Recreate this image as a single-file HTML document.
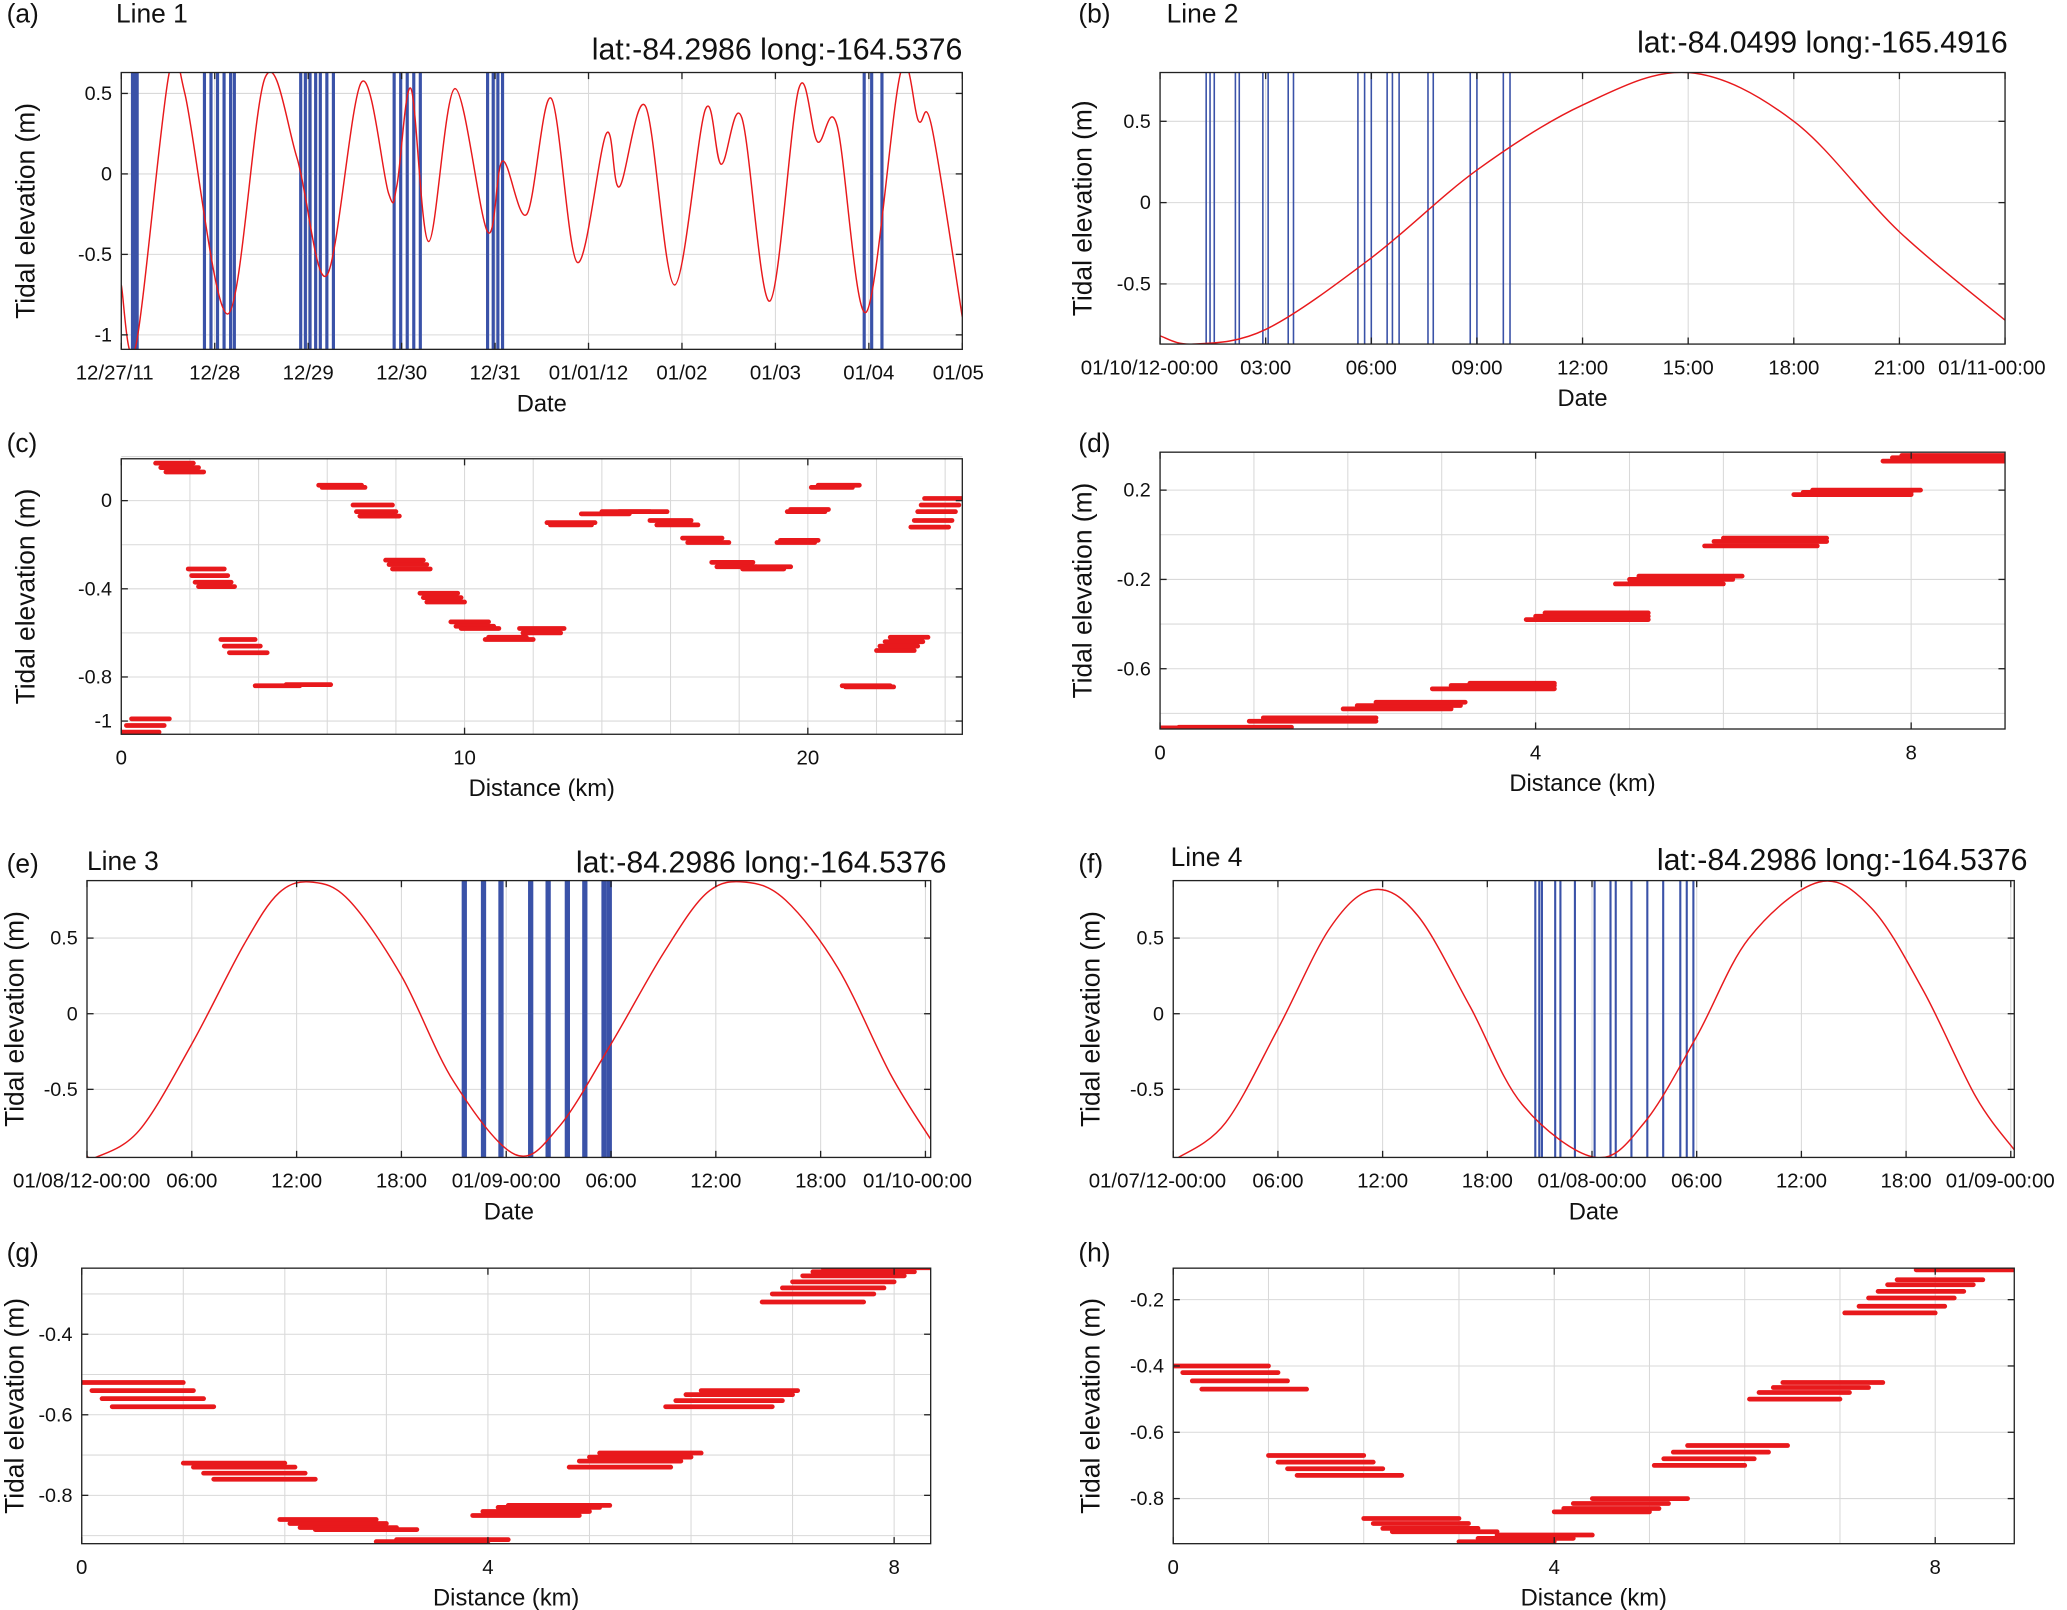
<!DOCTYPE html>
<html><head><meta charset="utf-8"><style>
html,body{margin:0;padding:0;background:#fff}
svg{display:block}
text{font-family:"Liberation Sans",sans-serif;fill:#111}
</style></head><body>
<svg id="fig" width="2067" height="1610" viewBox="0 0 1568 1221.3" xmlns="http://www.w3.org/2000/svg"></svg>
<script>
// ---- Panel (a) data: days since 12/27/11
const aTimes=[0,0.155,0.51,0.68,1.14,1.54,1.88,2.2,2.57,2.86,2.95,3.1,3.29,3.57,3.92,4.08,4.34,4.6,4.88,5.19,5.33,5.61,5.92,6.25,6.42,6.64,6.94,7.25,7.45,7.66,7.97,8.34,8.53,8.67,9.0];
const aValues=[-0.69,-1.07,0.62,0.5,-0.87,0.6,0.1,-0.63,0.57,-0.12,-0.07,0.53,-0.42,0.53,-0.36,0.08,-0.25,0.47,-0.55,0.25,-0.08,0.42,-0.69,0.4,0.06,0.35,-0.79,0.53,0.2,0.3,-0.86,0.63,0.33,0.3,-0.89];
const aPasses=[0.12,0.15,0.17,0.89,0.96,1.03,1.1,1.17,1.21,1.92,1.97,2.02,2.08,2.13,2.2,2.27,2.92,2.99,3.06,3.13,3.2,3.92,3.98,4.03,4.08,7.95,8.03,8.14];
const aTickLabels=["12/27/11","12/28","12/29","12/30","12/31","01/01/12","01/02","01/03","01/04","01/05"];
// ---- Panel (b) data: hours since 01/10/12 00:00
const bTimes=[0,0.94,3,6,9,12,15,18,21,24.04];
const bValues=[-0.82,-0.87,-0.78,-0.34,0.2,0.6,0.8,0.5,-0.18,-0.73];
const bPasses=[1.31,1.42,1.54,2.14,2.25,2.92,3.07,3.64,3.79,5.62,5.81,6.0,6.45,6.6,6.79,7.61,7.76,8.81,9.0,9.75,9.94];
const bTickLabels=["01/10/12-00:00","03:00","06:00","09:00","12:00","15:00","18:00","21:00","01/11-00:00"];
// ---- Panel (e) data: hours since 01/08/12 00:00
const eTimes=[0,0.5,3,6,9,11,12.9,15,18,21,24.5,27,30,33,35.5,37.7,40,43,46,48.3];
const eValues=[-0.94,-0.95,-0.77,-0.2,0.46,0.8,0.87,0.75,0.25,-0.45,-0.93,-0.75,-0.2,0.4,0.8,0.87,0.75,0.3,-0.4,-0.83];
const ePasses=[21.6,22.7,23.7,25.4,26.4,27.5,28.5,29.6,29.9];
const eTickLabels=["01/08/12-00:00","06:00","12:00","18:00","01/09-00:00","06:00","12:00","18:00","01/10-00:00"];
// ---- Panel (f) data: hours since 01/07/12 00:00
const fTimes=[0,0.3,3,6,9,11.5,14,17,20,24.2,27,30,33,37,40,43,46,48.2];
const fValues=[-0.94,-0.95,-0.72,-0.1,0.57,0.82,0.65,0.05,-0.6,-0.95,-0.72,-0.15,0.5,0.87,0.7,0.15,-0.55,-0.9];
const fPasses=[20.75,20.98,21.13,21.89,22.19,23.02,24.15,25.06,25.36,26.26,27.17,28.08,29.06,29.43,29.81];
const fTickLabels=["01/07/12-00:00","06:00","12:00","18:00","01/08-00:00","06:00","12:00","18:00","01/09-00:00"];
// ---- Panel (c) segments: start km, end km, elevation m
const cX0=[0.3,0.15,0,1.0,1.15,1.3,1.95,2.05,2.15,2.25,2.9,3.0,3.15,3.9,4.8,5.75,5.85,6.75,6.85,6.95,7.7,7.8,7.9,8.7,8.8,8.9,9.6,9.75,9.9,10.6,10.7,11.6,11.7,12.4,12.5,13.4,14.0,14.5,15.4,15.6,16.35,16.5,17.2,17.35,18.1,18.3,19.1,19.2,19.4,19.5,20.1,20.3,21.0,21.1,22.4,22.25,22.1,22.0,23.4,23.3,23.2,23.1,23.0];
const cX1=[1.4,1.25,1.1,2.1,2.25,2.4,3.0,3.1,3.2,3.3,3.9,4.05,4.25,5.2,6.1,7.0,7.1,7.9,8.0,8.1,8.8,8.9,9.0,9.8,9.9,10.0,10.7,10.85,11.0,12.0,11.8,12.9,12.8,13.8,13.7,14.8,15.4,15.9,16.6,16.8,17.5,17.7,18.4,18.5,19.3,19.5,20.2,20.3,20.5,20.6,21.3,21.5,22.4,22.5,23.5,23.35,23.2,23.1,24.5,24.4,24.3,24.2,24.1];
const cY=[-0.99,-1.02,-1.05,0.17,0.15,0.13,-0.31,-0.34,-0.37,-0.39,-0.63,-0.66,-0.69,-0.84,-0.835,0.07,0.06,-0.02,-0.05,-0.07,-0.27,-0.29,-0.31,-0.42,-0.44,-0.46,-0.55,-0.57,-0.58,-0.63,-0.62,-0.58,-0.6,-0.1,-0.11,-0.06,-0.05,-0.05,-0.09,-0.11,-0.17,-0.19,-0.28,-0.3,-0.31,-0.3,-0.19,-0.18,-0.05,-0.04,0.06,0.07,-0.84,-0.845,-0.62,-0.64,-0.66,-0.68,0.01,-0.02,-0.05,-0.09,-0.12];
// ---- Panel (d)
const dX0=[0,0.2,0.95,1.1,1.95,2.1,2.3,2.9,3.1,3.3,3.9,4.0,4.1,4.85,5.0,5.1,5.8,5.9,6.0,6.75,6.85,6.95,7.7,7.8,7.9];
const dX1=[1.2,1.4,2.3,2.3,3.1,3.2,3.25,4.2,4.2,4.2,5.2,5.2,5.2,6.0,6.1,6.2,7.0,7.1,7.1,8.0,8.0,8.1,9.0,9.0,9.0];
const dY=[-0.865,-0.862,-0.835,-0.82,-0.78,-0.765,-0.75,-0.69,-0.675,-0.665,-0.38,-0.365,-0.35,-0.22,-0.2,-0.185,-0.05,-0.03,-0.015,0.18,0.19,0.2,0.33,0.345,0.355];
// ---- Panel (g)
const gX0=[0,0.1,0.2,0.3,1.0,1.1,1.2,1.3,1.95,2.05,2.15,2.3,2.9,3.1,3.85,3.95,4.1,4.2,4.8,4.9,5.0,5.1,5.75,5.85,5.95,6.1,6.7,6.8,6.9,7.0,7.1,7.2,7.3];
const gX1=[1.0,1.1,1.2,1.3,2.0,2.1,2.2,2.3,2.9,3.0,3.1,3.3,4.0,4.2,4.9,5.0,5.1,5.2,5.8,5.9,6.0,6.1,6.8,6.9,7.0,7.05,7.7,7.8,7.9,8.0,8.1,8.2,8.36];
const gY=[-0.52,-0.54,-0.56,-0.58,-0.72,-0.73,-0.745,-0.76,-0.86,-0.87,-0.88,-0.885,-0.915,-0.91,-0.85,-0.84,-0.83,-0.825,-0.73,-0.715,-0.705,-0.695,-0.58,-0.565,-0.55,-0.54,-0.32,-0.3,-0.285,-0.27,-0.255,-0.245,-0.235];
// ---- Panel (h)
const hX0=[0,0.1,0.2,0.3,1.0,1.1,1.2,1.3,2.0,2.1,2.2,2.3,3.0,3.2,3.4,4.0,4.1,4.2,4.4,5.05,5.15,5.25,5.4,6.05,6.15,6.3,6.4,7.05,7.2,7.3,7.4,7.5,7.6,7.8];
const hX1=[1.0,1.1,1.2,1.4,2.0,2.1,2.2,2.4,3.0,3.1,3.2,3.4,4.0,4.2,4.4,5.0,5.1,5.2,5.4,6.0,6.1,6.25,6.45,7.0,7.1,7.3,7.45,8.0,8.1,8.2,8.3,8.4,8.5,8.83];
const hY=[-0.4,-0.42,-0.445,-0.47,-0.67,-0.69,-0.71,-0.73,-0.86,-0.875,-0.89,-0.9,-0.93,-0.92,-0.91,-0.84,-0.83,-0.815,-0.8,-0.7,-0.68,-0.66,-0.64,-0.5,-0.48,-0.465,-0.45,-0.24,-0.22,-0.195,-0.175,-0.155,-0.14,-0.11];

const NS="http://www.w3.org/2000/svg";
const svg=document.getElementById('fig');
function mk(tag,attrs,parent){const e=document.createElementNS(NS,tag);for(const k in attrs)e.setAttribute(k,attrs[k]);(parent||svg).appendChild(e);return e;}
function txt(s,x,y,size,anchor,parent,rot){const t=mk('text',{x:x,y:y,'font-size':size,'text-anchor':anchor||'start'},parent);if(rot)t.setAttribute('transform','rotate(-90 '+x+' '+y+')');t.textContent=s;return t;}

let clipId=0;
function panel(cfg){
  const g=mk('g',{});
  
  
  const L=cfg.box[0],T=cfg.box[1],R=cfg.box[2],B=cfg.box[3];
  const sx=v=>L+(v-cfg.xlim[0])/(cfg.xlim[1]-cfg.xlim[0])*(R-L);
  const sy=v=>B-(v-cfg.ylim[0])/(cfg.ylim[1]-cfg.ylim[0])*(B-T);
  const grid=mk('g',{stroke:'#d9d9d9','stroke-width':0.8},g);
  
  
  cfg.xgrid.forEach(v=>mk('line',{x1:sx(v),x2:sx(v),y1:T,y2:B},grid));
  cfg.ygrid.forEach(v=>mk('line',{x1:L,x2:R,y1:sy(v),y2:sy(v)},grid));
  const id='clip'+(clipId++);
  const cp=mk('clipPath',{id:id},g);mk('rect',{x:L,y:T,width:R-L,height:B-T},cp);
  const plot=mk('g',{'clip-path':'url(#'+id+')'},g);
  if(cfg.passes){
    cfg.passes.forEach(v=>{
      const l=mk('line',{x1:sx(v),x2:sx(v),y1:T,y2:B,stroke:'#3a52a8','stroke-width':cfg.passW},plot);
      
      
    });
  }
  if(cfg.times){
    const P=cfg.times.map((t,i)=>[sx(t),sy(cfg.values[i])]);
    let d='M'+P[0][0]+','+P[0][1];
    for(let i=0;i<P.length-1;i++){
      const p0=P[Math.max(0,i-1)],p1=P[i],p2=P[i+1],p3=P[Math.min(P.length-1,i+2)];
      const c1=[p1[0]+(p2[0]-p0[0])/6,p1[1]+(p2[1]-p0[1])/6];
      const c2=[p2[0]-(p3[0]-p1[0])/6,p2[1]-(p3[1]-p1[1])/6];
      d+=' C'+c1[0]+','+c1[1]+' '+c2[0]+','+c2[1]+' '+p2[0]+','+p2[1];
    }
    const c=mk('path',{d:d,fill:'none',stroke:'#e8191c','stroke-width':1.1},plot);
    
    
  }
  if(cfg.sx0){
    cfg.sx0.forEach((v,i)=>{
      const s=mk('line',{x1:sx(v),x2:sx(cfg.sx1[i]),y1:sy(cfg.sy[i]),y2:sy(cfg.sy[i]),stroke:'#e8191c','stroke-width':3.6,'stroke-linecap':'round'},plot);
      
      
    });
  }
  mk('rect',{x:L,y:T,width:R-L,height:B-T,fill:'none',stroke:'#222','stroke-width':1},g);
  const ticks=mk('g',{stroke:'#222','stroke-width':1},g);
  cfg.xticks.forEach(v=>{mk('line',{x1:sx(v),x2:sx(v),y1:B,y2:B-5},ticks);mk('line',{x1:sx(v),x2:sx(v),y1:T,y2:T+5},ticks);});
  cfg.yticks.forEach(v=>{mk('line',{x1:L,x2:L+5,y1:sy(v),y2:sy(v)},ticks);mk('line',{x1:R,x2:R-5,y1:sy(v),y2:sy(v)},ticks);});
  cfg.xticks.forEach((v,i)=>{const t=txt(cfg.xlabels[i],sx(v)+(cfg.xoff?cfg.xoff[i]:0),B+23,15.5,'middle',g);
    });
  cfg.yticks.forEach((v,i)=>{const t=txt(cfg.ylabels[i],L-7,sy(v)+5,15,'end',g);
    });
  const xt=txt(cfg.xtitle,(L+R)/2,B+47,18,'middle',g);
  
  const yt=txt('Tidal elevation (m)',cfg.ytx,(T+B)/2,20,'middle',g,true);
  
  const pl=txt(cfg.letter,cfg.lp[0],cfg.lp[1],20,'start',g);
  
  if(cfg.line){const t=txt(cfg.line,cfg.linep[0],cfg.linep[1],20,'start',g);
    }
  if(cfg.lat){const t=txt(cfg.lat,cfg.latp[0],cfg.latp[1],23,'end',g);
    }
}
const rng=(a,b,s)=>{const r=[];for(let v=a;v<=b+1e-9;v+=s)r.push(Math.round(v*1000)/1000);return r;};

panel({name:'panel-a',box:[92,55,730,265],xlim:[0,9],ylim:[-1.09,0.63],times:aTimes,values:aValues,passes:aPasses,passW:2.4,
 xgrid:rng(0,9,1),ygrid:[-1,-0.5,0,0.5],xticks:rng(0,9,1),xlabels:aTickLabels,xoff:[-5,0,0,0,0,0,0,0,0,-3],yticks:[-1,-0.5,0,0.5],ylabels:['-1','-0.5','0','0.5'],
 xtitle:'Date',ytx:26,letter:'(a)',lp:[5,17],line:'Line 1',linep:[88,17],lat:'lat:-84.2986 long:-164.5376',latp:[730,45]});
panel({name:'panel-b',box:[880,55,1521,261],xlim:[0,24],ylim:[-0.87,0.8],times:bTimes,values:bValues,passes:bPasses,passW:1.2,
 xgrid:rng(0,24,3),ygrid:[-0.5,0,0.5],xticks:rng(0,24,3),xlabels:bTickLabels,xoff:[-8,0,0,0,0,0,0,0,-10],yticks:[-0.5,0,0.5],ylabels:['-0.5','0','0.5'],
 xtitle:'Date',ytx:828,letter:'(b)',lp:[818,17],line:'Line 2',linep:[885,17],lat:'lat:-84.0499 long:-165.4916',latp:[1523,40]});
panel({name:'panel-c',box:[92,348,730,557],xlim:[0,24.5],ylim:[-1.06,0.19],sx0:cX0,sx1:cX1,sy:cY,
 xgrid:rng(0,24,2),ygrid:rng(-1,0.2,0.2),xticks:[0,10,20],xlabels:['0','10','20'],yticks:[-1,-0.8,-0.4,0],ylabels:['-1','-0.8','-0.4','0'],
 xtitle:'Distance (km)',ytx:26,letter:'(c)',lp:[5,343]});
panel({name:'panel-d',box:[880,343,1521,553],xlim:[0,9],ylim:[-0.87,0.37],sx0:dX0,sx1:dX1,sy:dY,
 xgrid:rng(0,9,1),ygrid:[-0.8,-0.6,-0.4,-0.2,0,0.2],xticks:[0,4,8],xlabels:['0','4','8'],yticks:[-0.6,-0.2,0.2],ylabels:['-0.6','-0.2','0.2'],
 xtitle:'Distance (km)',ytx:828,letter:'(d)',lp:[818,343]});
panel({name:'panel-e',box:[66,668,706,878],xlim:[0,48.3],ylim:[-0.95,0.88],times:eTimes,values:eValues,passes:ePasses,passW:4,
 xgrid:rng(0,48,6),ygrid:[-0.5,0,0.5],xticks:rng(0,48,6),xlabels:eTickLabels,xoff:[-4,0,0,0,0,0,0,0,-6],yticks:[-0.5,0,0.5],ylabels:['-0.5','0','0.5'],
 xtitle:'Date',ytx:18,letter:'(e)',lp:[5,662],line:'Line 3',linep:[66,660],lat:'lat:-84.2986 long:-164.5376',latp:[718,662]});
panel({name:'panel-f',box:[890,668,1528,878],xlim:[0,48.2],ylim:[-0.95,0.88],times:fTimes,values:fValues,passes:fPasses,passW:1.6,
 xgrid:rng(0,48,6),ygrid:[-0.5,0,0.5],xticks:rng(0,48,6),xlabels:fTickLabels,xoff:[-12,0,0,0,0,0,0,0,-8],yticks:[-0.5,0,0.5],ylabels:['-0.5','0','0.5'],
 xtitle:'Date',ytx:834,letter:'(f)',lp:[818,662],line:'Line 4',linep:[888,657],lat:'lat:-84.2986 long:-164.5376',latp:[1538,660]});
panel({name:'panel-g',box:[62,962,706,1171],xlim:[0,8.36],ylim:[-0.92,-0.236],sx0:gX0,sx1:gX1,sy:gY,
 xgrid:rng(0,8,1),ygrid:[-0.9,-0.8,-0.7,-0.6,-0.5,-0.4,-0.3],xticks:[0,4,8],xlabels:['0','4','8'],yticks:[-0.8,-0.6,-0.4],ylabels:['-0.8','-0.6','-0.4'],
 xtitle:'Distance (km)',ytx:18,letter:'(g)',lp:[5,957]});
panel({name:'panel-h',box:[890,962,1528,1171],xlim:[0,8.83],ylim:[-0.936,-0.105],sx0:hX0,sx1:hX1,sy:hY,
 xgrid:rng(0,8,1),ygrid:[-0.8,-0.6,-0.4,-0.2],xticks:[0,4,8],xlabels:['0','4','8'],yticks:[-0.8,-0.6,-0.4,-0.2],ylabels:['-0.8','-0.6','-0.4','-0.2'],
 xtitle:'Distance (km)',ytx:834,letter:'(h)',lp:[818,957]});
</script>
</body></html>
